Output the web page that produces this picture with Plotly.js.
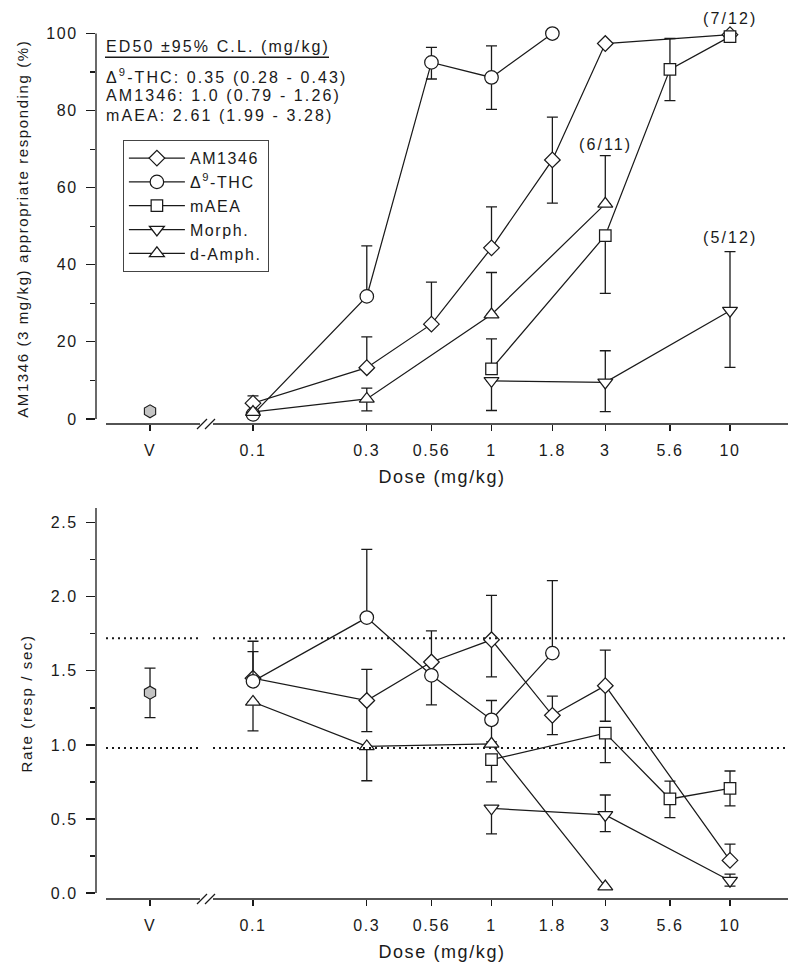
<!DOCTYPE html>
<html><head><meta charset="utf-8">
<script src="https://cdn.plot.ly/plotly-3.0.1.min.js"></script>
<style>
body{margin:0;background:#fff}
#chart{width:800px;height:976px}
svg text{letter-spacing:1.6px}
svg .annotation-text{letter-spacing:2.1px}
</style></head><body><div id="chart"></div>
<script>
// ---------- DATA ----------
const VEHICLE_DOSE = 0.037;             // position of the "V" (vehicle) point on the dose axis
const doseTicks    = [VEHICLE_DOSE, 0.1, 0.3, 0.56, 1, 1.8, 3, 5.6, 10];
const doseTickText = ['V', '0.1', '0.3', '0.56', '1', '1.8', '3', '5.6', '10'];
const seriesNames  = ['AM1346', '\u0394<sup>9</sup>-THC', 'mAEA', 'Morph.', 'd-Amph.'];

// Top panel: % AM1346-appropriate responding
const vehPct = [2.0];
const am1346Dose = [0.1, 0.3, 0.56, 1, 1.8, 3, 10];
const am1346Pct     = [4.1, 13.3, 24.6, 44.4, 67.2, 97.4, 99.7];
const am1346PctUp   = [1.9, 8.0, 10.9, 10.6, 11.1, 0, 0];
const am1346PctDown = [0, 0, 0, 0, 11.2, 0, 0];
const thcDose = [0.1, 0.3, 0.56, 1, 1.8];
const thcPct     = [1.2, 31.8, 92.5, 88.6, 100];
const thcPctUp   = [0, 13.1, 3.9, 8.2, 0];
const thcPctDown = [0, 0, 4.3, 8.3, 0];
const maeaDose = [1, 3, 5.6, 10];
const maeaPct     = [13.0, 47.6, 90.7, 99.2];
const maeaPctUp   = [7.8, 0, 8.0, 0];
const maeaPctDown = [0, 15.0, 8.1, 0];
const morphDose = [1, 3, 10];
const morphPct     = [9.9, 9.5, 28.1];
const morphPctUp   = [0, 8.2, 15.3];
const morphPctDown = [7.7, 7.6, 14.7];
const amphDose = [0.1, 0.3, 1, 3];
const amphPct     = [1.8, 5.2, 27.1, 55.8];
const amphPctUp   = [0, 2.8, 10.9, 12.5];
const amphPctDown = [0, 3.1, 0, 0];

// Bottom panel: response rate (resp / sec)
const vehRate = [1.353], vehRateUp = [0.165], vehRateDown = [0.169];
const am1346Rate     = [1.45, 1.30, 1.56, 1.71, 1.20, 1.40, 0.22];
const am1346RateUp   = [0.25, 0.21, 0.21, 0.30, 0.13, 0.24, 0.11];
const am1346RateDown = [0, 0.21, 0, 0.25, 0.13, 0.24, 0];
const thcRate     = [1.43, 1.86, 1.47, 1.17, 1.62];
const thcRateUp   = [0.20, 0.46, 0, 0.13, 0.49];
const thcRateDown = [0, 0, 0.20, 0.15, 0];
const maeaRate     = [0.90, 1.08, 0.635, 0.707];
const maeaRateUp   = [0, 0, 0.12, 0.117];
const maeaRateDown = [0.15, 0.20, 0.126, 0.119];
const morphRate     = [0.572, 0.527, 0.083];
const morphRateUp   = [0, 0.135, 0.045];
const morphRateDown = [0.173, 0.113, 0.036];
const amphRate     = [1.29, 0.99, 1.007, 0.043];
const amphRateUp   = [0, 0, 0, 0];
const amphRateDown = [0.195, 0.232, 0, 0];

const rateBandHigh = 1.72, rateBandLow = 0.98;   // dotted reference lines
const fractionLabels = [{dose: 10, pct: 100, shift: 15, text: '(7/12)'}, {dose: 3, pct: 71.3, shift: 0, text: '(6/11)'}, {dose: 10, pct: 47.0, shift: 0, text: '(5/12)'}];
const ed50Header = 'ED50 \u00b195% C.L. (mg/kg)';
const ed50Lines = ['\u0394<sup>9</sup>-THC: 0.35 (0.28 - 0.43)', 'AM1346: 1.0 (0.79 - 1.26)', 'mAEA: 2.61 (1.99 - 3.28)'];

// ---------- STYLE / LAYOUT ----------
const ink = '#1a1a1a';
const FONT = 'Liberation Sans, Arial, Helvetica, sans-serif';
const W = 800, H = 976, M = {l: 96, r: 12, t: 33, b: 77};
const px2x = p => (p - M.l) / (W - M.l - M.r);
const px2y = p => (H - M.b - p) / (H - M.t - M.b);

const symbols = ['diamond', 'circle', 'square', 'triangle-down', 'triangle-up'];
const sizes   = [12, 13.5, 11.5, 13, 13];

function mk(i, x, y, up, down, xa, ya, legend) {
  return {
    type: 'scatter', mode: 'lines+markers', x: x, y: y, xaxis: xa, yaxis: ya,
    name: seriesNames[i], showlegend: legend, legendgroup: 'g' + i, cliponaxis: false,
    line: {color: ink, width: 1.25},
    marker: {symbol: symbols[i], size: sizes[i], color: '#ffffff', line: {color: ink, width: 1.25}},
    error_y: {type: 'data', symmetric: false, array: up, arrayminus: down, color: ink, thickness: 1.3, width: 5.5},
    hoverinfo: 'x+y'
  };
}
function veh(y, up, down, xa, ya) {
  return {
    type: 'scatter', mode: 'markers', x: [VEHICLE_DOSE], y: y, xaxis: xa, yaxis: ya, showlegend: false, cliponaxis: false,
    marker: {symbol: 'hexagon', size: 13, color: '#c4c4c4', line: {color: ink, width: 1.1}},
    error_y: {type: 'data', symmetric: false, array: up, arrayminus: down, color: ink, thickness: 1.3, width: 5.5}
  };
}

const traces = [
  veh(vehPct, [0], [0], 'x', 'y'),
  mk(0, am1346Dose, am1346Pct, am1346PctUp, am1346PctDown, 'x', 'y', true),
  mk(1, thcDose, thcPct, thcPctUp, thcPctDown, 'x', 'y', true),
  mk(2, maeaDose, maeaPct, maeaPctUp, maeaPctDown, 'x', 'y', true),
  mk(3, morphDose, morphPct, morphPctUp, morphPctDown, 'x', 'y', true),
  mk(4, amphDose, amphPct, amphPctUp, amphPctDown, 'x', 'y', true),
  veh(vehRate, vehRateUp, vehRateDown, 'x2', 'y2'),
  mk(0, am1346Dose, am1346Rate, am1346RateUp, am1346RateDown, 'x2', 'y2', false),
  mk(1, thcDose, thcRate, thcRateUp, thcRateDown, 'x2', 'y2', false),
  mk(2, maeaDose, maeaRate, maeaRateUp, maeaRateDown, 'x2', 'y2', false),
  mk(3, morphDose, morphRate, morphRateUp, morphRateDown, 'x2', 'y2', false),
  mk(4, amphDose, amphRate, amphRateUp, amphRateDown, 'x2', 'y2', false)
];

const xRange = [-1.6583, 1.2432];
function xAxis(anchor) {
  return {
    type: 'log', range: xRange, domain: [0, 1], anchor: anchor,
    tickmode: 'array', tickvals: doseTicks, ticktext: doseTickText,
    ticks: 'outside', ticklen: 6, tickwidth: 1.2, tickcolor: ink, ticklabelstandoff: 6,
    showline: false, showgrid: false, zeroline: false,
    tickfont: {family: FONT, size: 16, color: ink},
    title: {text: 'Dose (mg/kg)', font: {family: FONT, size: 18, color: ink}, standoff: 12}
  };
}
function yAxis(anchor, domain, range, dtick, minorDtick, fmt, title) {
  return {
    anchor: anchor, domain: domain, range: range, dtick: dtick, tick0: 0, tickformat: fmt,
    ticks: 'outside', ticklen: 9, tickwidth: 1.2, tickcolor: ink, ticklabelstandoff: 5,
    minor: {dtick: minorDtick, tick0: 0, ticks: 'outside', ticklen: 5, tickwidth: 1.2, tickcolor: ink, showgrid: false},
    showline: false, showgrid: false, zeroline: false,
    tickfont: {family: FONT, size: 16, color: ink},
    title: {text: title, font: {family: FONT, size: 15, color: ink}, standoff: 14}
  };
}

const shapes = [];
function seg(x0, y0, x1, y1, extra) {
  shapes.push(Object.assign({type: 'line', xref: 'paper', yref: 'paper', x0: px2x(x0), y0: px2y(y0), x1: px2x(x1), y1: px2y(y1),
    line: {color: ink, width: 1.3}}, extra || {}));
}
// axis lines with a break (top panel: x-axis at 424 px, bottom: 899 px)
[[424, 419, 33.5], [899, 893, 508]].forEach(([ax, y0px, ytop]) => {
  seg(106, ax, 200, ax); seg(213, ax, 788, ax);
  seg(197, ax + 5, 207, ax - 5); seg(205, ax + 5, 215, ax - 5);
  seg(96, y0px, 96, ytop);
});
// ED50 header underline
seg(105, 57.3, 329, 57.3, {line: {color: ink, width: 1.6}});
// dotted reference band lines in the rate panel
[rateBandHigh, rateBandLow].forEach(v => {
  [[106, 200], [213, 786]].forEach(([a, b]) => {
    shapes.push({type: 'line', xref: 'paper', yref: 'y2', x0: px2x(a), x1: px2x(b), y0: v, y1: v,
      line: {color: ink, width: 2, dash: '2px,4px'}});
  });
});

const annotations = [];
const annFont = {family: FONT, size: 16, color: ink};
annotations.push({xref: 'paper', yref: 'paper', x: px2x(104), y: px2y(46.5), xanchor: 'left', yanchor: 'middle', showarrow: false, text: ed50Header, font: annFont});
ed50Lines.forEach((t, i) => annotations.push({xref: 'paper', yref: 'paper', x: px2x(104), y: px2y([76, 95.7, 115][i]), xanchor: 'left', yanchor: 'middle', showarrow: false, text: t, font: annFont}));
fractionLabels.forEach(f => annotations.push({xref: 'x', yref: 'y', x: Math.log10(f.dose), y: f.pct, yshift: f.shift, xanchor: 'center', yanchor: 'middle', showarrow: false, text: f.text, font: annFont}));

const layout = {
  width: W, height: H, margin: M, paper_bgcolor: '#fff', plot_bgcolor: 'rgba(0,0,0,0)',
  font: {family: FONT, size: 16, color: ink},
  showlegend: true,
  legend: {x: px2x(122.7), y: px2y(140), xanchor: 'left', yanchor: 'top', bgcolor: '#fff', bordercolor: '#444', borderwidth: 1.2,
    font: {family: FONT, size: 16, color: ink}, itemwidth: 56, tracegroupgap: 0},
  xaxis: xAxis('y'),
  yaxis: yAxis('x', [px2y(424), px2y(33.5)], [-1.3, 100], 20, 10, 'd', 'AM1346 (3 mg/kg) appropriate responding (%)'),
  xaxis2: xAxis('y2'),
  yaxis2: yAxis('x2', [0, px2y(508)], [-0.0405, 2.6], 0.5, 0.25, '.1f', 'Rate (resp / sec)'),
  shapes: shapes, annotations: annotations
};

Plotly.newPlot('chart', traces, layout, {staticPlot: true, displayModeBar: false});
</script></body></html>
